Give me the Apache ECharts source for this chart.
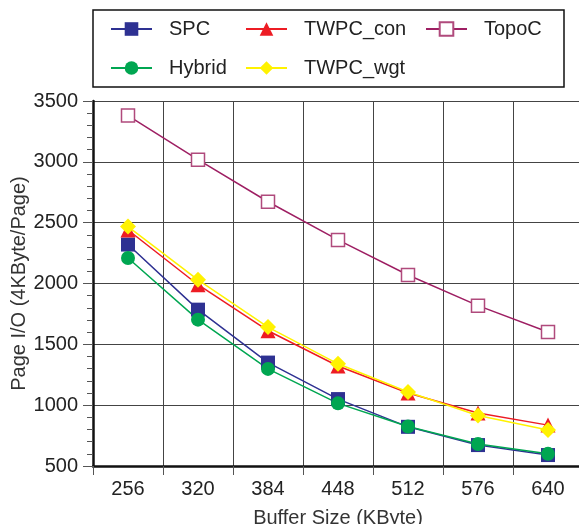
<!DOCTYPE html>
<html>
<head>
<meta charset="utf-8">
<script src="https://cdn.jsdelivr.net/npm/echarts@6/dist/echarts.min.js"></script>
<style>html,body{margin:0;padding:0;background:#fff}#c{width:579px;height:524px}</style>
</head>
<body>
<div id="c"></div>
<script>
var categories = ['256', '320', '384', '448', '512', '576', '640'];
var spc = [2320, 1785, 1350, 1050, 822, 672, 590];
var twpcCon = [2440, 1990, 1612, 1322, 1100, 935, 836];
var topoC = [3380, 3018, 2672, 2358, 2070, 1818, 1602];
var hybrid = [2210, 1703, 1298, 1015, 825, 681, 600];
var twpcWgt = [2468, 2030, 1642, 1340, 1108, 915, 796];
var yTicks = [500, 1000, 1500, 2000, 2500, 3000, 3500];

var FONT = 'Liberation Sans, Arial, Helvetica, sans-serif';
var chart = echarts.init(document.getElementById('c'), null, {renderer: 'canvas'});

function legendCol(left, names) {
  return {
    data: names,
    orient: 'vertical',
    left: left,
    top: 19,
    padding: 0,
    itemWidth: 41,
    itemHeight: 17,
    itemGap: 19,
    textStyle: {fontFamily: FONT, fontSize: 20, color: '#222', padding: [0, 0, 0, 12]},
    selectedMode: false
  };
}

chart.setOption({
  animation: false,
  backgroundColor: '#fff',
  grid: {left: 93, top: 101, width: 490, height: 365, containLabel: false, outerBoundsMode: 'none'},
  legend: [
    legendCol(110, ['SPC', 'Hybrid']),
    legendCol(245, ['TWPC_con', 'TWPC_wgt']),
    legendCol(425, ['TopoC'])
  ],
  graphic: [{
    type: 'rect',
    shape: {x: 93, y: 10, width: 471, height: 77},
    style: {fill: 'none', stroke: '#111', lineWidth: 1.5},
    z: 100
  }],
  xAxis: {
    type: 'category',
    data: categories,
    boundaryGap: true,
    name: 'Buffer Size (KByte)',
    nameLocation: 'middle',
    nameGap: 42,
    nameMoveOverlap: false,
    nameTextStyle: {fontFamily: FONT, fontSize: 20, color: '#333'},
    axisLine: {show: true, lineStyle: {color: '#111', width: 2.5}},
    axisTick: {show: true, length: 9, interval: 0, lineStyle: {color: '#555', width: 1}},
    axisLabel: {interval: 0, margin: 13, fontFamily: FONT, fontSize: 20, color: '#222'},
    splitLine: {show: true, interval: 0, lineStyle: {color: '#444', width: 1}}
  },
  yAxis: {
    type: 'value',
    min: yTicks[0],
    max: yTicks[yTicks.length - 1],
    interval: 500,
    name: 'Page I/O (4KByte/Page)',
    nameLocation: 'middle',
    nameRotate: 90,
    nameGap: 64,
    nameMoveOverlap: false,
    nameTextStyle: {fontFamily: FONT, fontSize: 20, color: '#333'},
    axisLine: {show: true, lineStyle: {color: '#111', width: 2.5}},
    axisTick: {show: true, length: 10, lineStyle: {color: '#555', width: 1}},
    minorTick: {show: true, splitNumber: 5, length: 6, lineStyle: {color: '#555', width: 1}},
    axisLabel: {margin: 15, fontFamily: FONT, fontSize: 20, color: '#222',
                formatter: function (v) { return String(v); }},
    splitLine: {show: true, lineStyle: {color: '#444', width: 1}}
  },
  series: [
    {name: 'SPC', type: 'line', data: spc, symbol: 'rect', symbolSize: 14,
     itemStyle: {color: '#2E3192'}, lineStyle: {color: '#2E3192', width: 1.5}},
    {name: 'TWPC_con', type: 'line', data: twpcCon, symbol: 'triangle', symbolSize: 15,
     itemStyle: {color: '#ED1C24'}, lineStyle: {color: '#ED1C24', width: 1.5}},
    {name: 'TopoC', type: 'line', data: topoC, symbol: 'rect', symbolSize: 13,
     itemStyle: {color: '#fff', borderColor: '#B04A7C', borderWidth: 1.5},
     lineStyle: {color: '#9E1F63', width: 1.5}},
    {name: 'Hybrid', type: 'line', data: hybrid, symbol: 'circle', symbolSize: 14,
     itemStyle: {color: '#00A651'}, lineStyle: {color: '#00A651', width: 1.5}},
    {name: 'TWPC_wgt', type: 'line', data: twpcWgt, symbol: 'diamond', symbolSize: 16,
     itemStyle: {color: '#FFF200'}, lineStyle: {color: '#FFF200', width: 1.5}}
  ]
});
</script>
</body>
</html>
